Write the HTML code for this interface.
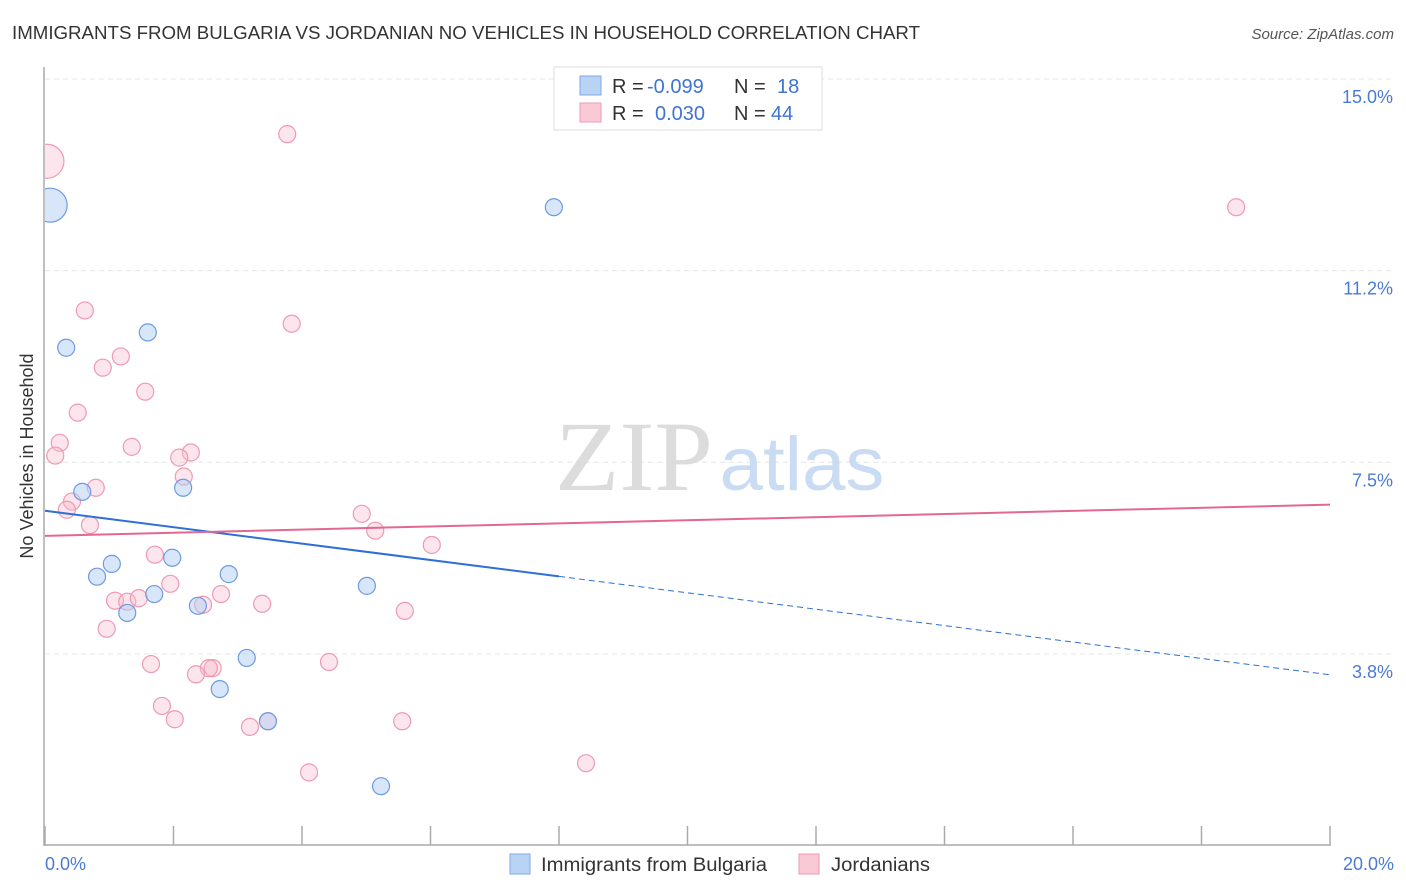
<!DOCTYPE html>
<html><head><meta charset="utf-8"><style>
body{margin:0;background:#fff;font-family:"Liberation Sans",sans-serif;}
</style></head><body>
<svg width="1406" height="892" xmlns="http://www.w3.org/2000/svg" style="display:block">
<text x="12" y="39" font-size="18" fill="#333" textLength="908" lengthAdjust="spacingAndGlyphs">IMMIGRANTS FROM BULGARIA VS JORDANIAN NO VEHICLES IN HOUSEHOLD CORRELATION CHART</text>
<text x="1394" y="39" font-size="15" fill="#555" text-anchor="end" font-style="italic">Source: ZipAtlas.com</text>
<text transform="translate(33,456) rotate(-90)" font-size="18" fill="#333" text-anchor="middle">No Vehicles in Household</text>
<g id="grid"></g>
<g>
<text x="634" y="490" font-size="100" fill="#dcdcdc" font-family="Liberation Serif,serif" text-anchor="middle" textLength="158" lengthAdjust="spacingAndGlyphs">ZIP</text>
<text x="802" y="490" font-size="76" fill="#c9dcf3" text-anchor="middle" textLength="165" lengthAdjust="spacingAndGlyphs">atlas</text>
</g>
<line x1="44" y1="67" x2="44" y2="846" stroke="#aaa" stroke-width="1.5"/>
<line x1="44" y1="845" x2="1331" y2="845" stroke="#aaa" stroke-width="1.5"/>
<g id="ticks"></g>
<defs><clipPath id="pc"><rect x="45" y="60" width="1360" height="785"/></clipPath></defs>
<g id="pts" clip-path="url(#pc)"></g>
<g id="trend"></g>
<text x="45" y="870" font-size="18" fill="#4a7bd4">0.0%</text>
<text x="1394" y="870" font-size="18" fill="#4a7bd4" text-anchor="end">20.0%</text>
<g>
<rect x="554" y="67" width="268" height="63" fill="#fff" stroke="#ddd"/>
<rect x="580" y="76" width="21" height="19" fill="#b9d3f5" stroke="#7fa8e6"/>
<rect x="580" y="103" width="21" height="19" fill="#fac9d6" stroke="#ee9ab2"/>
<text x="612" y="93" font-size="20" fill="#333">R = <tspan x="647" fill="#3f74cf">-0.099</tspan><tspan x="734">N = </tspan><tspan x="777" fill="#3f74cf">18</tspan></text>
<text x="612" y="120" font-size="20" fill="#333">R = <tspan x="655" fill="#3f74cf">0.030</tspan><tspan x="734">N = </tspan><tspan x="771" fill="#3f74cf">44</tspan></text>
</g>
<g>
<rect x="510" y="854" width="20" height="20" fill="#b9d3f5" stroke="#7fa8e6"/>
<text x="541" y="871" font-size="19" fill="#333" textLength="226" lengthAdjust="spacingAndGlyphs">Immigrants from Bulgaria</text>
<rect x="799" y="854" width="20" height="20" fill="#fac9d6" stroke="#ee9ab2"/>
<text x="831" y="871" font-size="19" fill="#333" textLength="99" lengthAdjust="spacingAndGlyphs">Jordanians</text>
</g>
</svg>
<script>
const yTicks=[15.0,11.25,7.5,3.75];
const yTickLabels=["15.0%","11.2%","7.5%","3.8%"];
const xTicks=[0,2,4,6,8,10,12,14,16,18,20];
const blueX=[0.08,7.92,1.60,0.33,0.58,2.15,1.04,0.81,1.98,1.70,1.28,2.38,2.86,5.01,3.14,2.72,3.47,5.23];
const blueY=[12.57,12.53,10.08,9.78,6.96,7.04,5.55,5.30,5.67,4.96,4.59,4.73,5.35,5.12,3.71,3.10,2.47,1.20];
const blueBig=[1,0,0,0,0,0,0,0,0,0,0,0,0,0,0,0,0,0];
const pinkX=[0.03,3.77,18.54,0.62,3.84,0.90,1.18,1.56,0.51,0.23,0.16,1.35,2.27,2.09,2.16,0.79,0.42,0.34,0.70,4.93,5.14,6.02,1.71,1.95,1.09,1.28,1.46,2.74,2.46,3.38,5.60,0.96,1.65,2.61,2.55,2.35,4.42,1.82,2.02,3.19,5.56,4.11,8.42,3.47];
const pinkY=[13.43,13.96,12.53,10.51,10.25,9.39,9.61,8.92,8.51,7.92,7.67,7.84,7.73,7.63,7.26,7.04,6.77,6.61,6.31,6.53,6.20,5.92,5.73,5.16,4.83,4.81,4.88,4.96,4.75,4.77,4.63,4.28,3.59,3.51,3.51,3.39,3.63,2.77,2.51,2.36,2.47,1.47,1.65,2.47];
const pinkBig=[1,0,0,0,0,0,0,0,0,0,0,0,0,0,0,0,0,0,0,0,0,0,0,0,0,0,0,0,0,0,0,0,0,0,0,0,0,0,0,0,0,0,0,0];
const blueTrend=[6.55,3.34];
const pinkTrend=[6.06,6.67];
const blueSolidEnd=8;
const NS="http://www.w3.org/2000/svg";
const xs=v=>45+v*64.25;
const ys=v=>845.5-v*51.1;
function mk(t,a,p){const e=document.createElementNS(NS,t);for(const k in a)e.setAttribute(k,a[k]);p.appendChild(e);return e;}
const grid=document.getElementById('grid');
yTicks.forEach((t,i)=>{
 const l=mk('line',{x1:45,x2:1393,y1:ys(t),y2:ys(t),stroke:'#e6e6e6','stroke-dasharray':'5,4'},grid);
 
 
 const tx=mk('text',{x:1393,y:ys(t)+24,'font-size':18,fill:'#4a7bd4','text-anchor':'end'},grid);
 tx.textContent=yTickLabels[i];
 
 
});
const tk=document.getElementById('ticks');
xTicks.forEach(t=>{
 const l=mk('line',{x1:xs(t),x2:xs(t),y1:826,y2:845,stroke:'#aaa','stroke-width':1.5},tk);
 
 
});
const pts=document.getElementById('pts');
function draw(X,Y,B,fill,stroke,name){
 X.forEach((x,i)=>{
  const c=mk('circle',{cx:xs(x),cy:ys(Y[i])+2,r:B[i]?17:8.5,fill:fill,stroke:stroke,'stroke-width':1.2},pts);
  
  
 });
}
draw(pinkX,pinkY,pinkBig,'rgba(248,190,207,0.4)','#ee9ab2','point-jordanians');
draw(blueX,blueY,blueBig,'rgba(177,205,243,0.5)','#6e9be0','point-bulgaria');
const tr=document.getElementById('trend');
const bm=blueTrend[0]+(blueTrend[1]-blueTrend[0])*blueSolidEnd/20;
let a=mk('line',{x1:xs(0),y1:ys(blueTrend[0]),x2:xs(blueSolidEnd),y2:ys(bm),stroke:'#2f6fd6','stroke-width':2},tr);


a=mk('line',{x1:xs(blueSolidEnd),y1:ys(bm),x2:xs(20),y2:ys(blueTrend[1]),stroke:'#2f6fd6','stroke-width':1,'stroke-dasharray':'6,4'},tr);


a=mk('line',{x1:xs(0),y1:ys(pinkTrend[0]),x2:xs(20),y2:ys(pinkTrend[1]),stroke:'#e3688f','stroke-width':2},tr);


</script>
</body></html>
